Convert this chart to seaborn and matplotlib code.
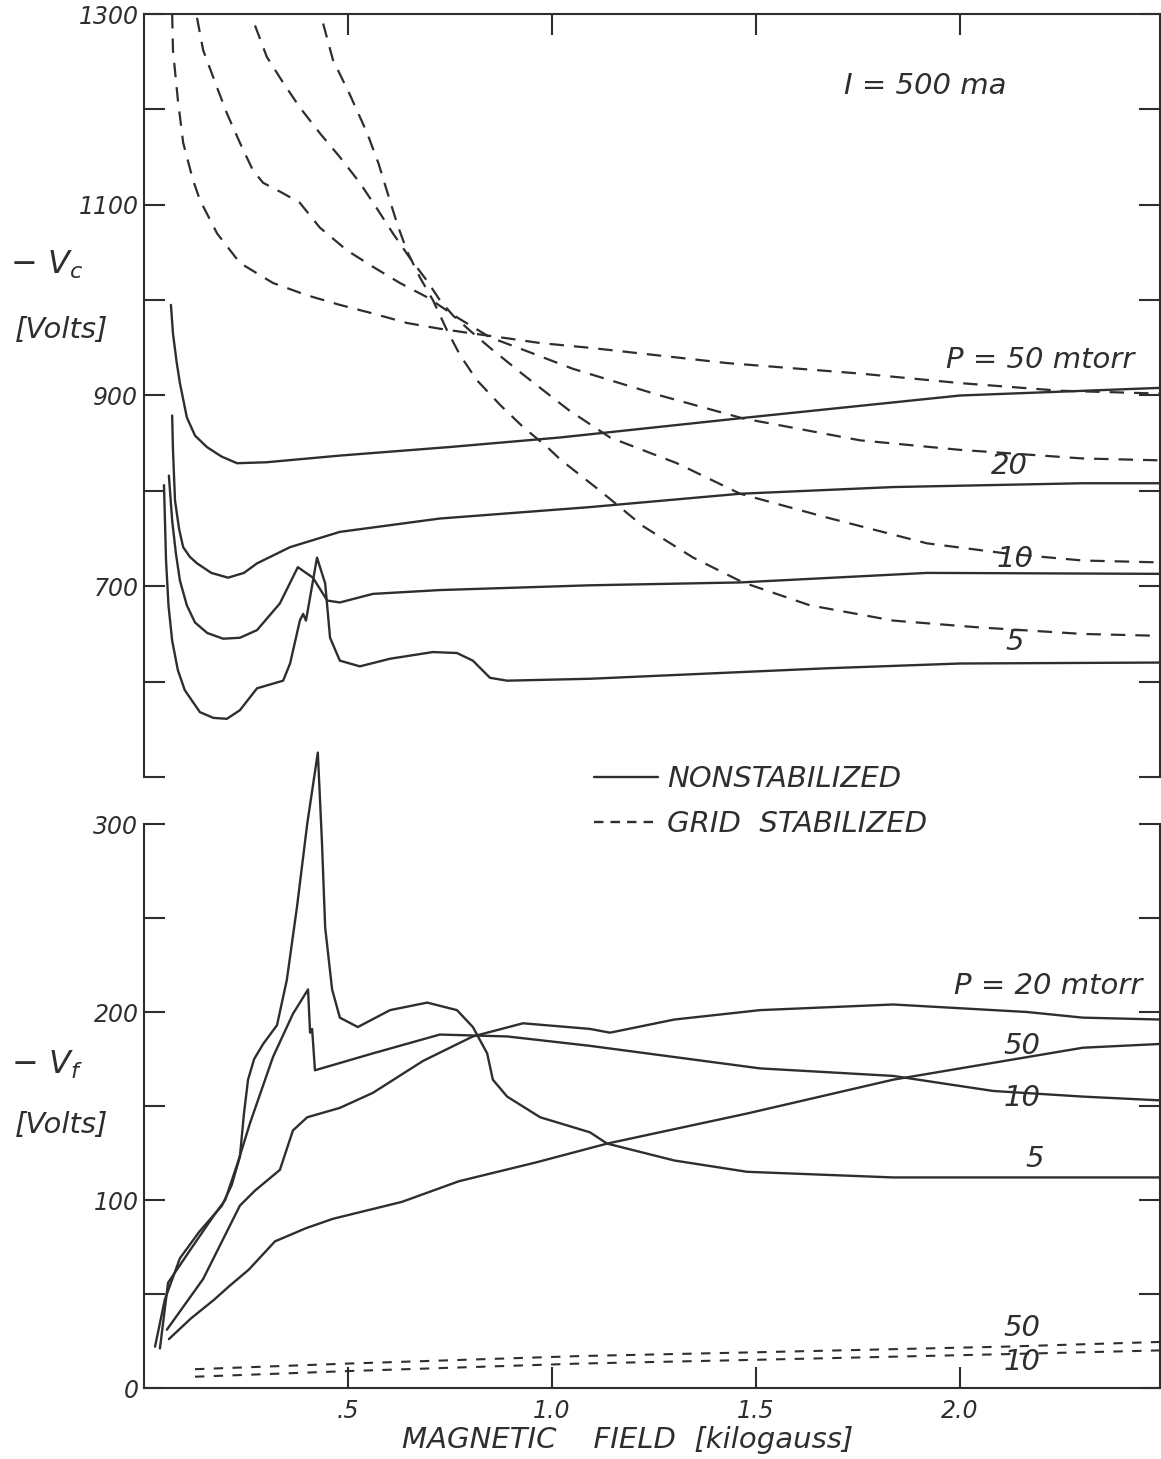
import matplotlib
matplotlib.use('Agg')
import matplotlib.pyplot as plt
import seaborn as sns
from matplotlib.lines import Line2D

# ---- top panel: cathode voltage -Vc (volts) vs magnetic field (kG) ----
# nonstabilized (solid)
vc50_x = [0.066, 0.071, 0.080, 0.088, 0.105, 0.125, 0.154, 0.190, 0.228, 0.30, 0.48, 0.75, 1.02, 1.48, 2.0, 2.49]
vc50_y = [995, 965, 935, 913, 877, 858, 846, 836, 829, 830, 837, 846, 856, 877, 900, 908]
vc20_x = [0.069, 0.071, 0.076, 0.086, 0.096, 0.112, 0.130, 0.165, 0.206, 0.245, 0.277, 0.358, 0.48, 0.725,
          1.093, 1.461, 1.836, 2.30, 2.49]
vc20_y = [879, 843, 790, 760, 741, 731, 724, 714, 709, 714, 724, 741, 757, 771, 783, 797, 804, 808, 808]
vc10_x = [0.061, 0.069, 0.078, 0.088, 0.105, 0.125, 0.155, 0.194, 0.235, 0.277, 0.333, 0.377, 0.414,
          0.449, 0.48, 0.561, 0.725, 1.093, 1.461, 1.919, 2.49]
vc10_y = [816, 769, 735, 706, 680, 662, 651, 645, 646, 654, 682, 720, 709,
          685, 683, 692, 696, 701, 704, 714, 713]
vc5_x = [0.049, 0.054, 0.060, 0.069, 0.083, 0.100, 0.137, 0.170, 0.203, 0.235, 0.277, 0.341, 0.358, 0.382,
         0.390, 0.397, 0.424, 0.444, 0.456, 0.48, 0.529, 0.603, 0.708, 0.767, 0.806, 0.848, 0.890, 1.093,
         1.674, 2.0, 2.49]
vc5_y = [806, 727, 680, 643, 612, 591, 568, 562, 561, 570, 593, 601, 619, 664,
         671, 664, 730, 703, 646, 622, 616, 624, 631, 630, 622, 604, 601, 603,
         614, 619, 620]

# grid stabilized (dashed)
gc50_x = [0.069, 0.071, 0.083, 0.096, 0.120, 0.137, 0.179, 0.235, 0.316, 0.400, 0.480, 0.561, 0.645,
          0.725, 0.806, 0.890, 0.971, 1.093, 1.429, 1.755, 2.0, 2.245, 2.49]
gc50_y = [1300, 1262, 1210, 1165, 1126, 1105, 1070, 1039, 1018, 1005, 995, 986, 976,
          970, 965, 960, 955, 950, 934, 923, 913, 905, 902]
gc20_x = [0.130, 0.145, 0.179, 0.203, 0.235, 0.267, 0.292, 0.341, 0.382, 0.431, 0.498, 0.561, 0.627,
          0.694, 0.767, 0.848, 0.929, 1.051, 1.265, 1.468, 1.755, 2.0, 2.30, 2.49]
gc20_y = [1296, 1262, 1223, 1196, 1165, 1136, 1123, 1112, 1102, 1076, 1052, 1035, 1018,
          1003, 982, 961, 948, 928, 900, 876, 853, 843, 834, 832]
gc10_x = [0.272, 0.301, 0.341, 0.382, 0.431, 0.480, 0.529, 0.571, 0.610, 0.652, 0.694, 0.725, 0.757,
          0.799, 0.848, 0.929, 1.040, 1.142, 1.306, 1.461, 1.674, 1.919, 2.12, 2.30, 2.49]
gc10_y = [1288, 1255, 1228, 1202, 1175, 1150, 1123, 1096, 1070, 1044, 1020, 1000, 984,
          968, 950, 922, 885, 856, 829, 797, 772, 745, 734, 727, 725]
gc5_x = [0.439, 0.463, 0.505, 0.547, 0.575, 0.600, 0.622, 0.645, 0.676, 0.708, 0.743, 0.775, 0.816,
         0.873, 0.929, 0.988, 1.020, 1.118, 1.223, 1.346, 1.468, 1.632, 1.836, 2.042, 2.30, 2.49]
gc5_y = [1290, 1252, 1215, 1175, 1143, 1108, 1078, 1051, 1024, 1000, 968, 942, 916,
         890, 867, 846, 833, 800, 763, 730, 704, 680, 664, 657, 650, 648]

# ---- bottom panel: floating potential -Vf (volts) ----
vf5_x = [0.027, 0.051, 0.088, 0.135, 0.191, 0.215, 0.235, 0.245, 0.255, 0.270, 0.292, 0.326, 0.350, 0.375,
         0.400, 0.426, 0.436, 0.444, 0.461, 0.480, 0.524, 0.603, 0.694, 0.767, 0.806, 0.841, 0.855, 0.890,
         0.971, 1.093, 1.135, 1.30, 1.478, 1.836, 2.30, 2.49]
vf5_y = [22, 47, 69, 83, 97, 108, 123, 146, 164, 175, 183, 193, 217, 256,
         300, 338, 291, 245, 212, 197, 192, 201, 205, 201, 192, 178, 164, 155,
         144, 136, 130, 121, 115, 112, 112, 112]
vf10_x = [0.039, 0.059, 0.115, 0.172, 0.199, 0.230, 0.260, 0.316, 0.365, 0.402, 0.407, 0.412, 0.419,
          0.561, 0.725, 0.890, 1.093, 1.510, 1.836, 2.081, 2.301, 2.49]
vf10_y = [21, 56, 74, 92, 100, 120, 141, 176, 199, 212, 189, 191, 169,
          178, 188, 187, 182, 170, 166, 158, 155, 153]
vf20_x = [0.056, 0.145, 0.235, 0.272, 0.333, 0.365, 0.400, 0.480, 0.561, 0.684, 0.806, 0.929, 1.093,
          1.142, 1.30, 1.510, 1.836, 2.164, 2.301, 2.49]
vf20_y = [31, 58, 97, 105, 116, 137, 144, 149, 157, 174, 187, 194, 191,
          189, 196, 201, 204, 200, 197, 196]
vf50_x = [0.061, 0.115, 0.172, 0.208, 0.257, 0.321, 0.397, 0.463, 0.632, 0.772, 0.961, 1.135, 1.478,
          1.836, 2.301, 2.49]
vf50_y = [26, 37, 47, 54, 63, 78, 85, 90, 99, 110, 120, 130, 146, 164, 181, 183]
gf50_x = [0.125, 0.5, 1.07, 1.5, 2.11, 2.49]
gf50_y = [10, 13, 17, 19, 22, 24.5]
gf10_x = [0.125, 0.5, 1.07, 1.5, 2.11, 2.49]
gf10_y = [6, 9, 13, 15, 18, 20]

x_ticks = [0.5, 1.0, 1.5, 2.0]
x_ticklabels = ['.5', '1.0', '1.5', '2.0']
vc_ticks = [500, 600, 700, 800, 900, 1000, 1100, 1200, 1300]
vc_ticklabels = ['', '', '700', '', '900', '', '1100', '', '1300']
vf_ticks = [0, 50, 100, 150, 200, 250, 300]
vf_ticklabels = ['0', '', '100', '', '200', '', '300']

sns.set_style('white')
plt.rcParams['font.family'] = ['DejaVu Sans']
plt.rcParams['font.style'] = 'italic'
plt.rcParams['mathtext.fontset'] = 'dejavusans'

INK = '#2e2e2e'
FS = 17      # tick labels
LFS = 21     # curve labels, legend, axis titles
W, H = 1161, 1459

fig = plt.figure(figsize=(W / 100, H / 100), dpi=100)
ax_top = fig.add_axes([144 / W, 1 - 777 / H, 1016 / W, 763 / H])
ax_bot = fig.add_axes([144 / W, 1 - 1388 / H, 1016 / W, 564 / H])


def draw(ax, x, y, dash=None, lw=1.7, clip=True):
    ls = '-' if dash is None else (0, dash)
    sns.lineplot(x=x, y=y, ax=ax, color=INK, linewidth=lw, linestyle=ls,
                 sort=False, estimator=None, clip_on=clip)


# top panel curves
for xs, ys in [(vc50_x, vc50_y), (vc20_x, vc20_y), (vc10_x, vc10_y), (vc5_x, vc5_y)]:
    draw(ax_top, xs, ys)
for xs, ys in [(gc50_x, gc50_y), (gc20_x, gc20_y), (gc10_x, gc10_y), (gc5_x, gc5_y)]:
    draw(ax_top, xs, ys, dash=(6.5, 4.5), lw=1.6)

# bottom panel curves
for xs, ys in [(vf5_x, vf5_y), (vf10_x, vf10_y), (vf20_x, vf20_y), (vf50_x, vf50_y)]:
    draw(ax_bot, xs, ys, clip=False)
for xs, ys in [(gf50_x, gf50_y), (gf10_x, gf10_y)]:
    draw(ax_bot, xs, ys, dash=(4.5, 4.5), lw=1.5)

# axes styling
for ax in (ax_top, ax_bot):
    ax.set_facecolor('none')
    ax.set_xlim(0, 2.49)
    ax.set_xlabel('')
    ax.set_ylabel('')
    ax.set_xticks(x_ticks)
    for s in ax.spines.values():
        s.set_color(INK)
        s.set_linewidth(1.5)
    ax.tick_params(axis='both', which='both', direction='in', length=15, width=1.5,
                   color=INK, labelcolor=INK, labelsize=FS, pad=4)

ax_top.set_ylim(500, 1300)
ax_top.set_yticks(vc_ticks)
ax_top.set_yticklabels(vc_ticklabels)
ax_top.spines['bottom'].set_visible(False)
ax_top.tick_params(axis='x', top=True, bottom=False, labeltop=False, labelbottom=False)
ax_top.tick_params(axis='y', left=True, right=True, labelright=False)

ax_bot.set_ylim(0, 300)
ax_bot.set_yticks(vf_ticks)
ax_bot.set_yticklabels(vf_ticklabels)
ax_bot.set_xticklabels(x_ticklabels)
ax_bot.spines['top'].set_visible(False)
ax_bot.tick_params(axis='x', top=False, bottom=True, pad=8)
ax_bot.tick_params(axis='y', left=True, right=True, labelright=False)

# curve labels
txt = dict(fontsize=LFS, color=INK, ha='center', va='center')
ax_top.text(1.914, 1225, 'I = 500 ma', **txt)
ax_top.text(2.196, 937, 'P = 50 mtorr', **txt)
ax_top.text(2.12, 826, '20', **txt)
ax_top.text(2.135, 729, '10', **txt)
ax_top.text(2.135, 642, '5', **txt)

ax_bot.text(2.216, 214, 'P = 20 mtorr', **txt)
ax_bot.text(2.152, 182, '50', **txt)
ax_bot.text(2.152, 154, '10', **txt)
ax_bot.text(2.184, 122, '5', **txt)
ax_bot.text(2.152, 32, '50', **txt)
ax_bot.text(2.152, 14, '10', **txt)

# axis titles
fig.text(47 / W, 1 - 265 / H, r'$-\ V_c$', fontsize=LFS + 2, color=INK, ha='center', va='center')
fig.text(62 / W, 1 - 330 / H, '[Volts]', fontsize=LFS, color=INK, ha='center', va='center')
fig.text(47 / W, 1 - 1065 / H, r'$-\ V_f$', fontsize=LFS + 2, color=INK, ha='center', va='center')
fig.text(62 / W, 1 - 1125 / H, '[Volts]', fontsize=LFS, color=INK, ha='center', va='center')
fig.text(628 / W, 1 - 1440 / H, 'MAGNETIC    FIELD  [kilogauss]', fontsize=LFS, color=INK,
         ha='center', va='center')

# legend between the panels
handles = [Line2D([], [], color=INK, lw=1.7),
           Line2D([], [], color=INK, lw=1.7, linestyle=(0, (4, 3)))]
fig.legend(handles=handles, labels=['NONSTABILIZED', 'GRID  STABILIZED'], loc='upper left',
           bbox_to_anchor=(594 / W, 1 - 765 / H), frameon=False, fontsize=LFS,
           handlelength=2.2, handletextpad=0.3, labelspacing=0.6, borderpad=0,
           borderaxespad=0, labelcolor=INK)

fig.savefig('out.png', dpi=100, facecolor='white')
